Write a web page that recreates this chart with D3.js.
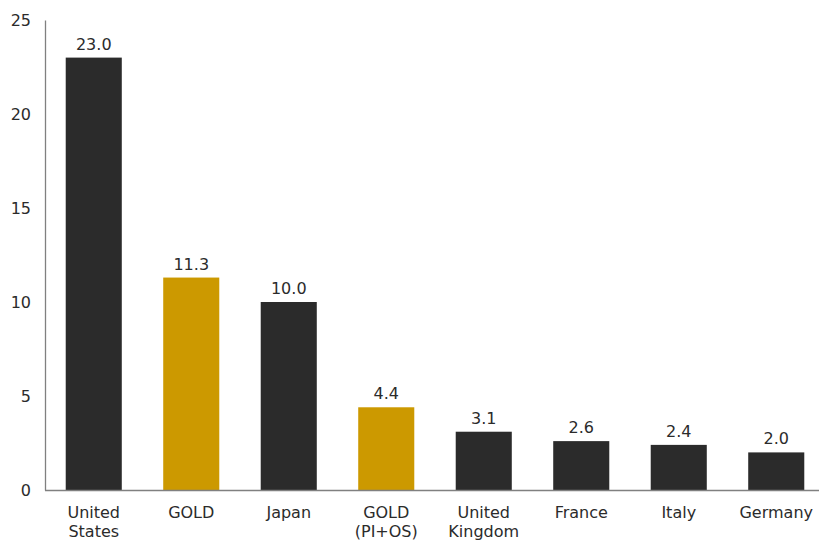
<!DOCTYPE html>
<html><head><meta charset="utf-8">
<script src="https://cdn.jsdelivr.net/npm/d3@7"></script>
<style>body{margin:0;background:#fff}svg{display:block}text{font-family:"DejaVu Sans",Verdana,sans-serif;fill:#2b2b2b}</style>
</head><body><svg id="c" width="819" height="541"></svg>
<script>
const categories = ["United\nStates","GOLD","Japan","GOLD\n(PI+OS)","United\nKingdom","France","Italy","Germany"];
const values = [23.0,11.3,10.0,4.4,3.1,2.6,2.4,2.0];
const highlight = [false,true,false,true,false,false,false,false];
const yTicks = [0,5,10,15,20,25];

const svg = d3.select("#c");
const x0 = 45, yBase = 490, yTop = 20;
const x = d3.scaleBand().domain(categories).range([x0, 825]).paddingInner(0.425).paddingOuter(0.2125);
const y = d3.scaleLinear().domain([0,25]).range([yBase, yTop]);

svg.selectAll("rect.bar").data(values).enter().append("rect")
  .attr("x",(d,i)=>x(categories[i])).attr("width",x.bandwidth())
  .attr("y",d=>y(d)).attr("height",d=>y(0)-y(d))
  .attr("fill",(d,i)=>highlight[i]?"#cc9900":"#2b2b2b");

svg.selectAll("text.val").data(values).enter().append("text")
  .attr("x",(d,i)=>x(categories[i])+x.bandwidth()/2).attr("y",d=>y(d)-8)
  .attr("text-anchor","middle").attr("font-size",16).text(d=>d.toFixed(1));

const yAxis = svg.append("g").attr("transform",`translate(${x0},0)`)
  .call(d3.axisLeft(y).tickValues(yTicks).tickSize(0).tickPadding(14));
yAxis.select(".domain").attr("stroke","#808080").attr("stroke-width",1.3);
yAxis.selectAll("text").attr("font-size",16).attr("fill","#2b2b2b").attr("font-family","DejaVu Sans, Verdana, sans-serif");

svg.append("line").attr("x1",x0).attr("x2",819).attr("y1",yBase+0.5).attr("y2",yBase+0.5)
  .attr("stroke","#808080").attr("stroke-width",1.3);

const labels = svg.selectAll("text.cat").data(categories).enter().append("text")
  .attr("x",d=>x(d)+x.bandwidth()/2).attr("y",518).attr("text-anchor","middle").attr("font-size",16);
labels.each(function(d){
  const t = d3.select(this);
  d.split("\n").forEach((line,i)=>{
    t.append("tspan").attr("x",x(d)+x.bandwidth()/2).attr("dy",i===0?0:19).text(line);
  });
});
</script></body></html>
